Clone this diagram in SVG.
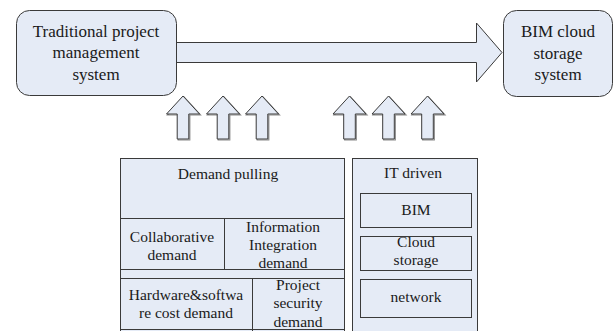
<svg xmlns="http://www.w3.org/2000/svg" width="614" height="331" viewBox="0 0 614 331">
  <style>
    .box { fill: #e5ebf6; stroke: #3a3a3a; stroke-width: 1; }
    .shade { fill: none; stroke: #8a8a8a; stroke-width: 1.2; }
    .line { fill: none; stroke: #3a3a3a; stroke-width: 1; }
    text { font-family: "Liberation Serif", "Times New Roman", serif; fill: #1a1a1a; text-anchor: middle; }
    .big { font-size: 17px; }
    .small { font-size: 15.5px; }
  </style>
  <defs>
    <!-- hollow up-arrow, tip at origin -->
    <path id="up" d="M0,0 L16.5,18 L5.8,18 L5.8,43 L-5.8,43 L-5.8,18 L-16.5,18 Z"/>
    <!-- upward push with a soft edge shadow -->
    <g id="push">
      <use href="#up" class="shade" x="1" y="1"/>
      <use href="#up" class="box"/>
    </g>
  </defs>

  <g id="connectors">
    <!-- wide transition arrow -->
    <path class="box" d="M176.5,42.5 L476.5,42.5 L476.5,23 L502,52.5 L476.5,82 L476.5,62.5 L176.5,62.5"/>
    <!-- demand-side pushes -->
    <use href="#push" x="183" y="96"/>
    <use href="#push" x="223" y="96"/>
    <use href="#push" x="262" y="96"/>
    <!-- technology-side pushes -->
    <use href="#push" x="349.5" y="96"/>
    <use href="#push" x="388.5" y="96"/>
    <use href="#push" x="427.5" y="96"/>
  </g>

  <g id="traditional-system">
    <rect class="box" x="16.5" y="10.5" width="160" height="85" rx="13"/>
    <text class="big" x="96" y="37">Traditional project</text>
    <text class="big" x="96" y="58">management</text>
    <text class="big" x="96" y="80">system</text>
  </g>

  <g id="bim-cloud-system">
    <rect class="box" x="503.5" y="10.5" width="109" height="86" rx="13"/>
    <text class="big" x="558" y="37">BIM cloud</text>
    <text class="big" x="558" y="59">storage</text>
    <text class="big" x="558" y="80">system</text>
  </g>

  <g id="demand-pulling">
    <rect class="box" x="120.5" y="158.5" width="224" height="180"/>
    <text class="small" x="228" y="179">Demand pulling</text>
    <path class="line" d="M120.5,218.5 H344.5 M224.5,218.5 V269.5 M120.5,269.5 H344.5 M120.5,278.5 H344.5 M252.5,278.5 V331 M120.5,329.5 H344.5"/>
    <g id="collaborative-demand">
      <text class="small" x="172" y="242">Collaborative</text>
      <text class="small" x="172" y="260">demand</text>
    </g>
    <g id="information-integration-demand">
      <text class="small" x="283" y="232">Information</text>
      <text class="small" x="283" y="250">Integration</text>
      <text class="small" x="283" y="268">demand</text>
    </g>
    <g id="cost-demand">
      <text class="small" x="186" y="300">Hardware&amp;softwa</text>
      <text class="small" x="186" y="318">re cost demand</text>
    </g>
    <g id="security-demand">
      <text class="small" x="298" y="290">Project</text>
      <text class="small" x="298" y="308">security</text>
      <text class="small" x="298" y="327">demand</text>
    </g>
  </g>

  <g id="it-driven">
    <rect class="box" x="352.5" y="158.5" width="125" height="180"/>
    <text class="small" x="413" y="178">IT driven</text>
    <g id="bim">
      <rect class="box" x="360.5" y="193.5" width="111" height="34"/>
      <text class="small" x="416" y="215">BIM</text>
    </g>
    <g id="cloud-storage">
      <rect class="box" x="360.5" y="236.5" width="111" height="34"/>
      <text class="small" x="416" y="247">Cloud</text>
      <text class="small" x="416" y="265">storage</text>
    </g>
    <g id="network">
      <rect class="box" x="360.5" y="279.5" width="111" height="38"/>
      <text class="small" x="416" y="302">network</text>
    </g>
  </g>
</svg>
